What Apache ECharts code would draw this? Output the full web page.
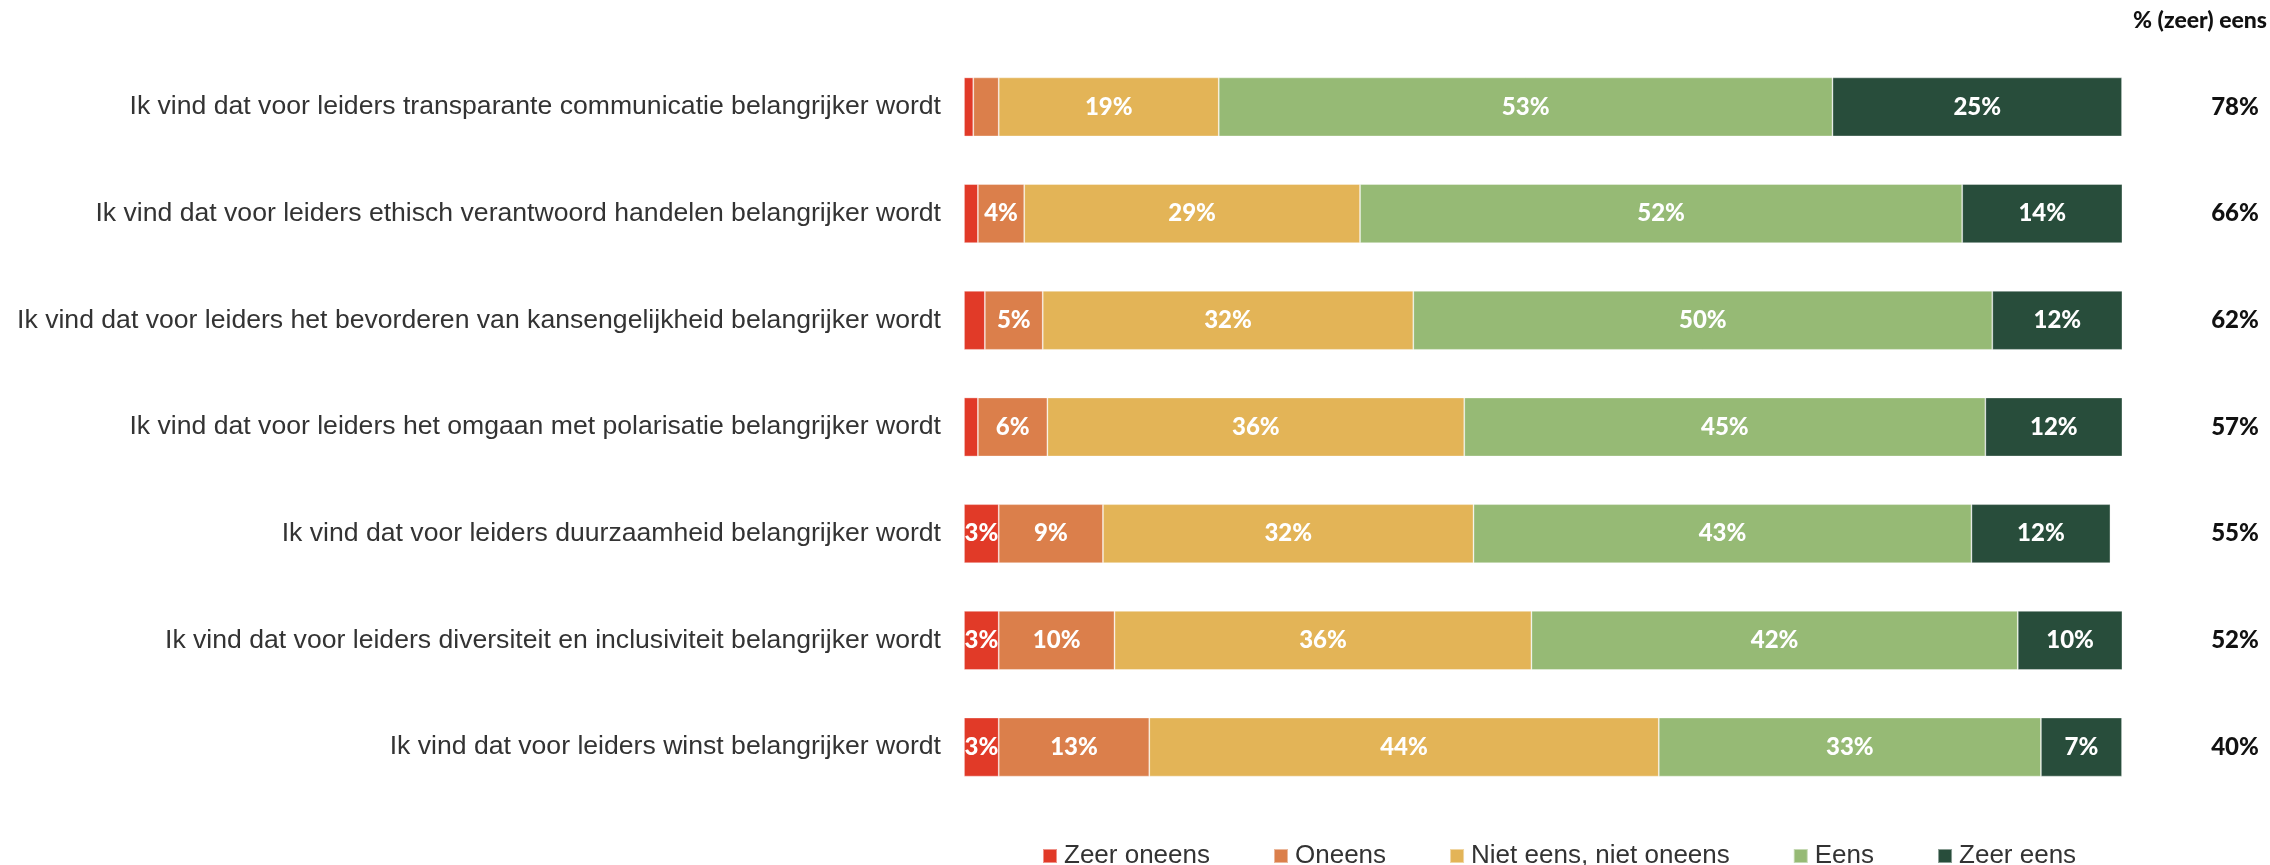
<!DOCTYPE html>
<html>
<head>
<meta charset="utf-8">
<script src="https://cdn.jsdelivr.net/npm/echarts@6/dist/echarts.min.js"></script>
<style>
  html, body { margin: 0; padding: 0; background: #ffffff; }
  #chart { width: 2270px; height: 865px; }
</style>
</head>
<body>
<div id="chart"></div>
<script>
// Statements, top to bottom
const categories = [
  'Ik vind dat voor leiders transparante communicatie belangrijker wordt',
  'Ik vind dat voor leiders ethisch verantwoord handelen belangrijker wordt',
  'Ik vind dat voor leiders het bevorderen van kansengelijkheid belangrijker wordt',
  'Ik vind dat voor leiders het omgaan met polarisatie belangrijker wordt',
  'Ik vind dat voor leiders duurzaamheid belangrijker wordt',
  'Ik vind dat voor leiders diversiteit en inclusiviteit belangrijker wordt',
  'Ik vind dat voor leiders winst belangrijker wordt'
];

// Answer shares in percent
const zeerOneens = [0.8, 1.2, 1.8, 1.2, 3, 3, 3];
const oneens     = [2.2, 4, 5, 6, 9, 10, 13];
const nietEens   = [19, 29, 32, 36, 32, 36, 44];
const eens       = [53, 52, 50, 45, 43, 42, 33];
const zeerEens   = [25, 14, 12, 12, 12, 10, 7];

// "% (zeer) eens" column on the right
const agreeTotals = [78, 66, 62, 57, 55, 52, 40];

const seriesNames  = ['Zeer oneens', 'Oneens', 'Niet eens, niet oneens', 'Eens', 'Zeer eens'];
const seriesData   = [zeerOneens, oneens, nietEens, eens, zeerEens];
const seriesColors = ['#E13A28', '#DB7F4B', '#E3B457', '#96BA75', '#284D3B'];

const labelFont = 'Lato, "Open Sans", sans-serif';
const textFont  = '"Liberation Sans", Arial, sans-serif';

const chart = echarts.init(document.getElementById('chart'), null, { renderer: 'canvas' });

chart.setOption({
  animation: false,
  backgroundColor: '#ffffff',
  title: {
    text: '% (zeer) eens',
    right: 3,
    top: 9,
    padding: 0,
    textStyle: { fontFamily: labelFont, fontSize: 23, fontWeight: 900, color: '#111111' }
  },
  legend: {
    data: seriesNames,
    left: 1037,
    top: 838,
    icon: 'rect',
    itemWidth: 14,
    itemHeight: 14,
    itemGap: 63,
    textStyle: { fontFamily: textFont, fontSize: 26, color: '#333333', padding: [0, 0, 0, 2] }
  },
  grid: { left: 964, right: 148, top: 53.6, bottom: 64.6, containLabel: false },
  xAxis: {
    type: 'value',
    min: 0,
    max: 100,
    show: false
  },
  yAxis: [
    {
      type: 'category',
      data: categories,
      inverse: true,
      axisLine: { show: false },
      axisTick: { show: false },
      splitLine: { show: false },
      axisLabel: { margin: 23, fontFamily: textFont, fontSize: 26.6, color: '#333333' }
    },
    {
      type: 'category',
      data: agreeTotals.map(v => v + '%'),
      inverse: true,
      position: 'right',
      axisLine: { show: false },
      axisTick: { show: false },
      splitLine: { show: false },
      axisLabel: {
        margin: 113,
        align: 'center',
        fontFamily: labelFont,
        fontSize: 24,
        fontWeight: 900,
        color: '#111111'
      }
    }
  ],
  series: seriesNames.map((name, i) => ({
    name: name,
    type: 'bar',
    stack: 'total',
    yAxisIndex: 0,
    barWidth: 59,
    data: seriesData[i],
    itemStyle: { color: seriesColors[i], borderColor: 'rgba(255,255,255,0.45)', borderWidth: 0.8 },
    label: {
      show: true,
      position: 'inside',
      color: '#ffffff',
      fontFamily: labelFont,
      fontSize: 24,
      fontWeight: 900,
      formatter: p => (p.value >= 3 ? Math.round(p.value) + '%' : '')
    },
    emphasis: { disabled: true }
  }))
});
</script>
</body>
</html>
